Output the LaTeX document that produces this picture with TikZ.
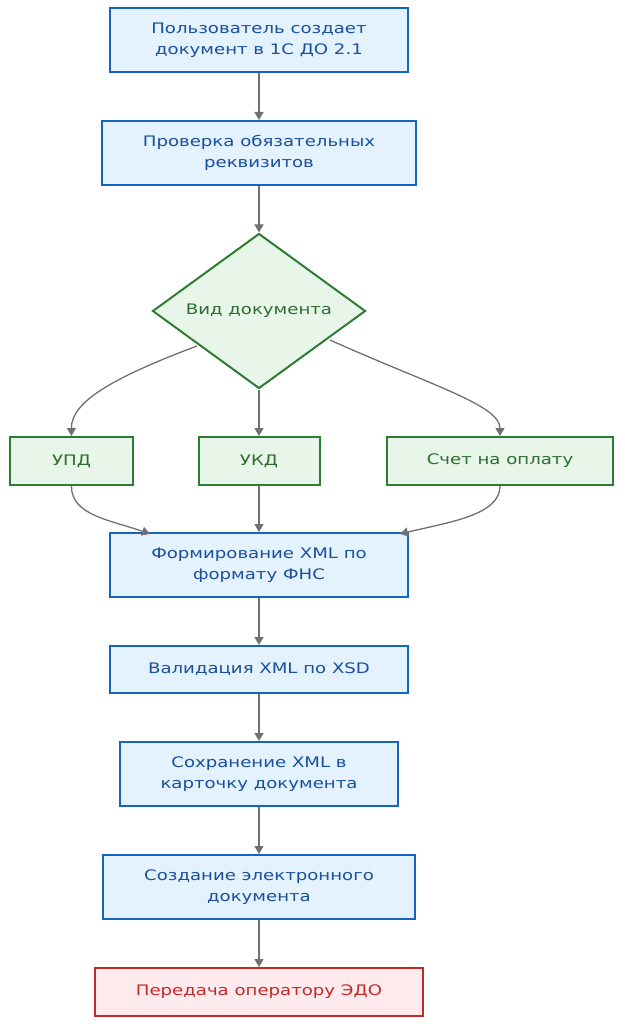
\documentclass[tikz,border=0pt]{standalone}
\usepackage{fontspec}
\setmainfont[FakeStretch=1.25]{DejaVu Sans}
\usetikzlibrary{shapes.geometric,arrows.meta}
\definecolor{bfill}{HTML}{E3F2FD}
\definecolor{bdraw}{HTML}{1565C0}
\definecolor{btext}{HTML}{1A4F9E}
\definecolor{gfill}{HTML}{E8F5E9}
\definecolor{gdraw}{HTML}{2E7D32}
\definecolor{gtext}{HTML}{2E6B30}
\definecolor{rfill}{HTML}{FFEBEE}
\definecolor{rdraw}{HTML}{C62828}
\definecolor{rtext}{HTML}{C62828}
\definecolor{edgec}{HTML}{707070}
\begin{document}
\begin{tikzpicture}[x=1pt,y=-1pt,
  every node/.style={font=\fontsize{14.5}{21}\selectfont, align=center, inner sep=0pt, line width=2pt},
  bluebox/.style={draw=bdraw, fill=bfill, text=btext, rectangle},
  greenbox/.style={draw=gdraw, fill=gfill, text=gtext, rectangle},
  redbox/.style={draw=rdraw, fill=rfill, text=rtext, rectangle},
  conn/.style={draw=edgec, line width=1.3pt, -{Triangle[width=9pt,length=8pt]}}]
\useasboundingbox (0,0) rectangle (624,1024);
\node[bluebox, minimum width=298, minimum height=64] (n1) at (259,40) {Пользователь создает\\документ в 1С ДО 2.1};
\node[bluebox, minimum width=314, minimum height=64] (n2) at (259,153) {Проверка обязательных\\реквизитов};
\node[diamond, draw=gdraw, fill=gfill, text=gtext, minimum width=213, minimum height=155, aspect=1.37] (d) at (259,311) {Вид документа};
\node[greenbox, minimum width=123, minimum height=48] (upd) at (71.5,461) {УПД};
\node[greenbox, minimum width=121, minimum height=48] (ukd) at (259,461) {УКД};
\node[greenbox, minimum width=226, minimum height=48] (sch) at (500,461) {Счет на оплату};
\node[bluebox, minimum width=298, minimum height=64] (n3) at (259,565) {Формирование XML по\\формату ФНС};
\node[bluebox, minimum width=298, minimum height=47] (n4) at (259,669.5) {Валидация XML по XSD};
\node[bluebox, minimum width=278, minimum height=64] (n5) at (259,774) {Сохранение XML в\\карточку документа};
\node[bluebox, minimum width=312, minimum height=64] (n6) at (259,887) {Создание электронного\\документа};
\node[redbox, minimum width=328, minimum height=48] (n7) at (259,992) {Передача оператору ЭДО};
\coordinate (dl) at (197,346);
\coordinate (dr) at (330,340);
\draw[conn] (n1) -- (n2);
\draw[conn] (n2) -- (d);
\draw[conn] (dl) .. controls (120,375) and (71,400) .. (upd.north);
\draw[conn] (d) -- (ukd);
\draw[conn] (dr) .. controls (430,385) and (500,405) .. (sch.north);
\draw[conn] (upd.south) .. controls (71,515) and (110,520) .. (150,533.9);
\draw[conn] (ukd) -- (n3);
\draw[conn] (sch.south) .. controls (500,515) and (450,522) .. (400,533.9);
\draw[conn] (n3) -- (n4);
\draw[conn] (n4) -- (n5);
\draw[conn] (n5) -- (n6);
\draw[conn] (n6) -- (n7);
\end{tikzpicture}
\end{document}
